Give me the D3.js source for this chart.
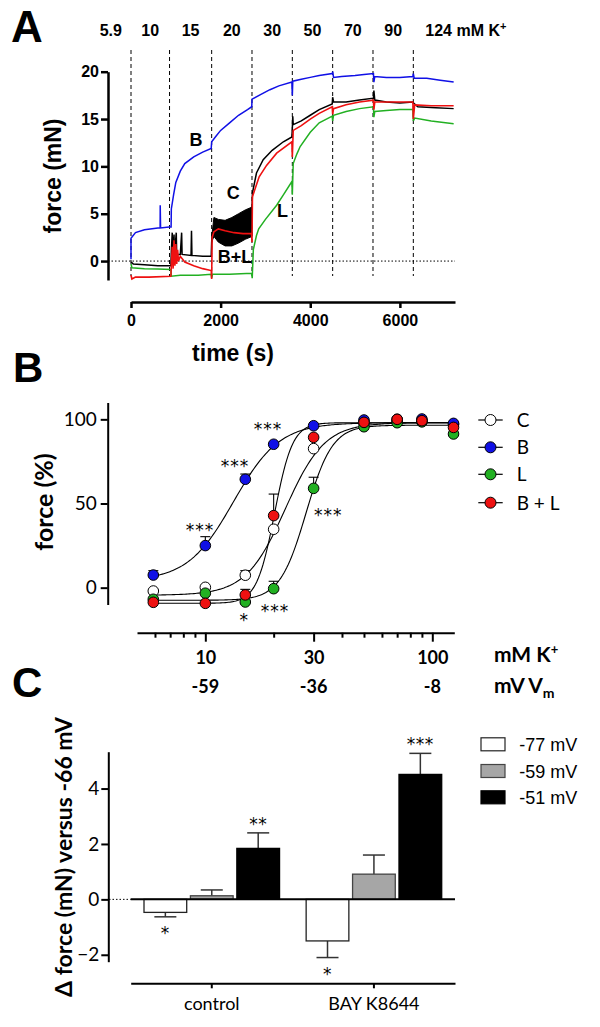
<!DOCTYPE html>
<html><head><meta charset="utf-8">
<script src="https://cdn.jsdelivr.net/npm/d3@7"></script>
<style>body{margin:0;background:#fff} svg{display:block}</style>
</head><body>
<svg id="c" width="600" height="1027"></svg>
<script>
// ================= DATA =================
// Panel A: force traces (time s, force mN)
const forceTicks = [0, 5, 10, 15, 20];
const timeTicks = [0, 2000, 4000, 6000];
const stepTimes = [0, 860, 1800, 2700, 3600, 4500, 5400, 6300];
const concLabels = ["5.9", "10", "15", "20", "30", "50", "70", "90"];
const concLabelTimes = [-450, 430, 1330, 2250, 3150, 4050, 4950, 5850];
const lastConcLabel = "124";

const traceB = [[0,0.2],[0,2.4],[100,3.0],[300,3.3],[600,3.5],[650,3.5],[652,5.9],[660,3.5],[850,3.6],[895,3.6],[900,5.5],[950,7.0],[1000,8.3],[1100,9.5],[1200,10.3],[1400,11.0],[1600,11.5],[1790,11.9],[1800,12.6],[1900,13.2],[2000,13.8],[2200,14.6],[2400,15.4],[2600,16.0],[2695,16.3],[2700,17.1],[2900,17.6],[3100,18.1],[3300,18.5],[3590,18.9],[3600,17.5],[3610,19.0],[3800,19.2],[4000,19.4],[4200,19.6],[4490,19.8],[4500,20.0],[4520,19.4],[4700,19.5],[5000,19.6],[5200,19.7],[5410,19.8],[5420,18.9],[5440,19.5],[5700,19.4],[6000,19.4],[6290,19.5],[6300,19.8],[6320,19.3],[6600,19.3],[6900,19.1],[7200,18.9]];
const traceC = [[0,-0.1],[50,-0.3],[300,-0.4],[600,-0.5],[890,-0.5],[900,1.0],[920,3.0],[930,0.5],[960,2.8],[970,0.6],[1010,3.0],[1020,0.7],[1100,0.7],[1130,3.0],[1140,0.7],[1340,0.6],[1350,3.2],[1360,0.6],[1600,0.5],[1790,0.5],[1800,2.0],[1820,3.0]];
const traceC2 = [[2700,5.5],[2710,7.2],[2800,9.3],[2950,10.7],[3150,11.7],[3400,12.6],[3590,13.1],[3600,14.0],[3610,15.3],[3620,14.4],[3800,14.8],[4000,15.4],[4200,16.0],[4490,16.6],[4500,17.3],[4520,16.8],[4800,16.8],[5100,17.0],[5410,17.2],[5420,18.0],[5440,17.0],[5700,16.8],[6000,16.7],[6290,16.8],[6300,16.7],[6400,16.3],[6800,16.2],[7200,16.1]];
const bandCTimes = [1800, 1850, 1950, 2100, 2250, 2400, 2550, 2700];
const bandCUpper = [2.5, 4.6, 4.4, 4.3, 4.6, 5.0, 5.4, 5.7];
const bandCLower = [2.0, 2.6, 2.0, 1.6, 1.6, 1.9, 2.3, 2.6];
const traceBL = [[0,-1.5],[20,-1.9],[100,-1.7],[400,-1.7],[890,-1.6],[900,-0.5],[920,1.5],[940,-0.8],[960,2.2],[980,-0.5],[1000,1.8],[1020,-0.3],[1040,1.2],[1060,0.0],[1100,0.5],[1200,-0.1],[1400,-0.5],[1600,-0.8],[1790,-1.0],[1800,-1.9],[1810,2.5],[1850,3.1],[1950,3.4],[2100,3.2],[2300,3.0],[2500,2.9],[2690,2.9],[2700,2.0],[2710,6.8],[2860,8.9],[3025,10.1],[3250,11.4],[3590,12.6],[3600,11.0],[3620,13.8],[3800,14.3],[4000,15.0],[4200,15.6],[4490,16.3],[4500,15.5],[4520,16.1],[4800,16.5],[5100,16.8],[5410,17.0],[5420,16.0],[5440,16.8],[5700,16.8],[6000,16.8],[6290,16.8],[6300,15.0],[6330,16.5],[6700,16.4],[7200,16.4]];
const traceL = [[0,-0.3],[20,-0.7],[300,-0.8],[600,-0.85],[890,-0.9],[900,-1.6],[1100,-1.5],[1500,-1.5],[1790,-1.4],[1800,-1.8],[1820,-1.4],[2200,-1.4],[2690,-1.3],[2705,-1.8],[2730,1.2],[2800,2.7],[2850,3.4],[3000,4.4],[3250,5.9],[3400,7.0],[3590,8.4],[3600,7.0],[3620,10.3],[3700,11.3],[3775,12.1],[4000,13.6],[4200,14.6],[4490,15.3],[4500,14.8],[4520,15.4],[4800,15.8],[5100,16.1],[5410,16.3],[5420,15.2],[5440,15.8],[5700,15.9],[6000,16.0],[6290,16.0],[6300,14.8],[6330,15.1],[6700,14.8],[7200,14.5]];
const traceLabels = ["B", "C", "L", "B+L"];
const traceLabelPos = [[1450, 12.1], [2280, 6.6], [3380, 4.7], [2320, -0.2]];

// Panel B: concentration-response
const kConc = [5.9, 10, 15, 20, 30, 50, 70, 90, 124];
const kMajorTicks = [10, 30, 100];
const kMinorTicks = [6, 7, 8, 9, 20, 40, 50, 60, 70, 80, 90];
const vmLabels = ["-59", "-36", "-8"];
const pctTicks = [0, 50, 100];
const seriesNames = ["C", "B", "L", "B + L"];
const seriesFill = ["#ffffff", "#1010e6", "#22b022", "#ee1111"];
const respC  = [-2.0, 0.2, 7.4, 34.7, 82.6, 98.0, 99.0, 99.0, 97.0];
const respB  = [7.5, 25.0, 64.4, 85.2, 96.2, 99.6, 100.0, 100.2, 97.6];
const respL  = [-6.9, -3.3, -8.5, -0.6, 59.0, 95.6, 98.0, 98.5, 91.3];
const respBL = [-8.7, -9.3, -4.3, 42.8, 89.3, 98.2, 100.0, 99.2, 95.2];
const semC  = [0, 0, 2.7, 0, 0, 0, 0, 0, 0];
const semB  = [2.6, 5.3, 3.1, 0, 0, 0, 0, 0, 0];
const semL  = [0, 0, 0, 4.4, 6.6, 0, 0, 0, 0];
const semBL = [0, 0, 3.3, 12.8, 0, 0, 0, 0, 0];
// fitted Hill parameters: bottom, top, EC50 (mM), slope
const fitC  = [-4.5, 98.0, 22.5, 5.0];
const fitB  = [4.0, 98.0, 13.3, 4.3];
const fitL  = [-7.5, 96.5, 27.8, 7.5];
const fitBL = [-9.3, 98.0, 20.2, 11.0];
const starsB = [[18.9, 97.0, "***"], [13.5, 74.8, "***"], [9.48, 36.8, "***"], [20.3, -10.9, "***"], [14.85, -16.8, "*"], [34.8, 45.7, "***"]];

// Panel C: bars
const groups = ["control", "BAY K8644"];
const conds = ["-77 mV", "-59 mV", "-51 mV"];
const condFill = ["#ffffff", "#a6a6a6", "#000000"];
const condStroke = ["#222222", "#444444", "#000000"];
const controlMean = [-0.47, 0.13, 1.84];
const controlSem  = [0.16, 0.21, 0.56];
const bayMean = [-1.5, 0.91, 4.51];
const baySem  = [0.6, 0.69, 0.76];
const controlStars = ["*", "", "**"];
const bayStars = ["*", "", "***"];
const deltaTicks = [-2, 0, 2, 4];

// ================= DRAW =================
const FA = "'Liberation Sans', Arial, sans-serif";
const FB = "Lato, 'Open Sans', sans-serif";
const FS = "'DejaVu Sans', sans-serif";
const svg = d3.select("#c");

function styleAxis(g, w, font, size, weight) {
  g.attr("font-family", font).attr("font-size", size).attr("font-weight", weight);
  g.select(".domain").attr("stroke", "#000").attr("stroke-width", w);
  g.selectAll(".tick line").attr("stroke", "#000").attr("stroke-width", w);
  g.selectAll(".tick text").attr("fill", "#000");
}

// ---------- Panel A ----------
const A = svg.append("g");
const xA = d3.scaleLinear().domain([0, 7230]).range([131, 455]);
const yA = d3.scaleLinear().domain([-2, 20]).range([280, 71.7]);

A.append("text").attr("x", 11).attr("y", 42).attr("font-family", FA).attr("font-weight", "bold")
  .attr("font-size", 44).text("A");

A.selectAll("text.conc").data(concLabels).join("text").attr("class", "conc")
  .attr("x", (d, i) => xA(concLabelTimes[i])).attr("y", 36).attr("text-anchor", "middle")
  .attr("font-family", FA).attr("font-weight", "bold").attr("font-size", 16).text(d => d);
const lastT = A.append("text").attr("x", xA(stepTimes[stepTimes.length - 1]) + 12).attr("y", 36)
  .attr("font-family", FA).attr("font-weight", "bold").attr("font-size", 16);
lastT.append("tspan").text(lastConcLabel + " mM K");
lastT.append("tspan").attr("dy", -6).attr("font-size", 11).text("+");

A.selectAll("line.step").data(stepTimes).join("line").attr("class", "step")
  .attr("x1", d => xA(d)).attr("x2", d => xA(d)).attr("y1", 50).attr("y2", 276)
  .attr("stroke", "#000").attr("stroke-width", 1).attr("stroke-dasharray", "4,3");

A.append("line").attr("x1", 108).attr("x2", 455).attr("y1", yA(0)).attr("y2", yA(0))
  .attr("stroke", "#000").attr("stroke-width", 1).attr("stroke-dasharray", "1.5,2");

const lineA = d3.line().x(d => xA(d[0])).y(d => yA(d[1]));
const bandData = bandCTimes.map((t, i) => [t, bandCLower[i], bandCUpper[i]]);
A.append("path").datum(bandData)
  .attr("d", d3.area().x(d => xA(d[0])).y0(d => yA(d[1])).y1(d => yA(d[2])))
  .attr("fill", "#000").attr("stroke", "#000").attr("stroke-width", 1);
A.append("path").datum(traceC).attr("d", lineA).attr("fill", "none").attr("stroke", "#000").attr("stroke-width", 1.5);
A.append("path").datum(traceC2).attr("d", lineA).attr("fill", "none").attr("stroke", "#000").attr("stroke-width", 1.5);
A.append("path").datum(traceL).attr("d", lineA).attr("fill", "none").attr("stroke", "#22b022").attr("stroke-width", 1.5);
A.append("path").datum(traceBL).attr("d", lineA).attr("fill", "none").attr("stroke", "#ee1111").attr("stroke-width", 1.6);
A.append("path").datum(traceB).attr("d", lineA).attr("fill", "none").attr("stroke", "#1010e6").attr("stroke-width", 1.5);

A.selectAll("text.tl").data(traceLabels).join("text").attr("class", "tl")
  .attr("x", (d, i) => xA(traceLabelPos[i][0])).attr("y", (d, i) => yA(traceLabelPos[i][1]))
  .attr("text-anchor", "middle").attr("font-family", FA).attr("font-weight", "bold")
  .attr("font-size", 18).text(d => d);

const yAxA = A.append("g").attr("transform", "translate(108,0)")
  .call(d3.axisLeft(yA).tickValues(forceTicks).tickSize(7).tickSizeOuter(0).tickPadding(2));
styleAxis(yAxA, 2.5, FA, 16, "bold");
const xAxA = A.append("g").attr("transform", "translate(0,302)")
  .call(d3.axisBottom(xA).tickValues(timeTicks).tickSize(6).tickSizeOuter(0).tickPadding(7).tickFormat(d3.format("d")));
styleAxis(xAxA, 2.5, FA, 16, "bold");

A.append("text").attr("transform", "translate(61,176) rotate(-90)").attr("text-anchor", "middle")
  .attr("font-family", FA).attr("font-weight", "bold").attr("font-size", 23).text("force (mN)");
A.append("text").attr("x", 233).attr("y", 361).attr("text-anchor", "middle")
  .attr("font-family", FA).attr("font-weight", "bold").attr("font-size", 23).text("time (s)");

// ---------- Panel B ----------
const B = svg.append("g");
const xB = d3.scaleLog().domain([5, 125]).range([137, 454.3]);
const yB = d3.scaleLinear().domain([-10, 110]).range([604.5, 402.5]);

B.append("text").attr("x", 13).attr("y", 382).attr("font-family", FA).attr("font-weight", "bold")
  .attr("font-size", 42).text("B");

const yAxB = B.append("g").attr("transform", "translate(107.7,0)")
  .call(d3.axisLeft(yB).tickValues(pctTicks).tickSize(7).tickSizeOuter(0).tickPadding(4));
styleAxis(yAxB, 2, FB, 19, "normal");
const xAxBminor = B.append("g").attr("transform", "translate(0,632.7)")
  .call(d3.axisBottom(xB).tickValues(kMinorTicks).tickSize(5).tickSizeOuter(0).tickFormat(""));
styleAxis(xAxBminor, 2, FB, 17, "bold");
const xAxB = B.append("g").attr("transform", "translate(0,632.7)")
  .call(d3.axisBottom(xB).tickValues(kMajorTicks).tickSize(9).tickSizeOuter(0).tickPadding(10).tickFormat(d3.format("d")));
styleAxis(xAxB, 2, FB, 18, "bold");
xAxB.select(".domain").remove();

B.selectAll("text.vm").data(vmLabels).join("text").attr("class", "vm")
  .attr("x", (d, i) => xB(kMajorTicks[i])).attr("y", 693).attr("text-anchor", "middle")
  .attr("font-family", FB).attr("font-weight", "bold").attr("font-size", 18).text(d => d);
const mk = B.append("text").attr("x", 494).attr("y", 662).attr("font-family", FB).attr("font-weight", "bold").attr("font-size", 21);
mk.append("tspan").text("mM K");
mk.append("tspan").attr("dy", -8).attr("font-size", 13).text("+");
const mv = B.append("text").attr("x", 494).attr("y", 693).attr("font-family", FB).attr("font-weight", "bold").attr("font-size", 21);
mv.append("tspan").text("mV V");
mv.append("tspan").attr("dy", 5).attr("font-size", 14).text("m");

B.append("text").attr("transform", "translate(53,502) rotate(-90)").attr("text-anchor", "middle")
  .attr("font-family", FB).attr("font-weight", "bold").attr("font-size", 25).text("force (%)");

const respAll = [respC, respB, respL, respBL];
const semAll = [semC, semB, semL, semBL];
const fitAll = [fitC, fitB, fitL, fitBL];

const curveX = d3.range(0, 201).map(i => Math.exp(Math.log(kConc[0]) + (Math.log(kConc[kConc.length - 1]) - Math.log(kConc[0])) * i / 200));
const hill = (p, x) => p[0] + (p[1] - p[0]) / (1 + Math.pow(p[2] / x, p[3]));
fitAll.forEach(p => {
  B.append("path").datum(curveX).attr("fill", "none").attr("stroke", "#000").attr("stroke-width", 1.1)
    .attr("d", d3.line().x(x => xB(x)).y(x => yB(hill(p, x))));
});
respAll.forEach((r, si) => {
  r.forEach((v, i) => {
    const e = semAll[si][i];
    if (e > 0) {
      B.append("line").attr("x1", xB(kConc[i])).attr("x2", xB(kConc[i])).attr("y1", yB(v)).attr("y2", yB(v + e))
        .attr("stroke", "#000").attr("stroke-width", 1.1);
      B.append("line").attr("x1", xB(kConc[i]) - 5).attr("x2", xB(kConc[i]) + 5).attr("y1", yB(v + e)).attr("y2", yB(v + e))
        .attr("stroke", "#000").attr("stroke-width", 1.1);
    }
  });
});
respAll.forEach((r, si) => {
  B.selectAll("circle.s" + si).data(r).join("circle").attr("class", "s" + si)
    .attr("cx", (d, i) => xB(kConc[i])).attr("cy", d => yB(d)).attr("r", 5.3)
    .attr("fill", seriesFill[si]).attr("stroke", "#000").attr("stroke-width", 1);
});
B.selectAll("text.star").data(starsB).join("text").attr("class", "star")
  .attr("x", d => xB(d[0])).attr("y", d => yB(d[1]) + 10.5).attr("text-anchor", "middle")
  .attr("font-family", FS).attr("font-size", 17).attr("letter-spacing", 1).attr("fill", "#000").text(d => d[2]);

const legBY = [420, 447.3, 474.3, 502.7];
seriesNames.forEach((n, i) => {
  B.append("line").attr("x1", 478.3).attr("x2", 502.7).attr("y1", legBY[i]).attr("y2", legBY[i]).attr("stroke", "#000").attr("stroke-width", 1.2);
  B.append("circle").attr("cx", 490.5).attr("cy", legBY[i]).attr("r", 5.5).attr("fill", seriesFill[i]).attr("stroke", "#000").attr("stroke-width", 1);
  B.append("text").attr("x", 516.7).attr("y", legBY[i] + 7).attr("font-family", FB).attr("font-size", 19).text(n);
});

// ---------- Panel C ----------
const C = svg.append("g");
const yC = d3.scaleLinear().domain([-2.25, 5.33]).range([961.7, 751.7]);
const x0 = d3.scaleBand().domain(groups).range([130.7, 455]).paddingInner(0).paddingOuter(0);
const x1 = d3.scaleBand().domain(conds).range([13.3, x0.bandwidth() - 13.3]).paddingInner(0.08);

C.append("text").attr("x", 12).attr("y", 697).attr("font-family", FA).attr("font-weight", "bold")
  .attr("font-size", 42).text("C");

const barData = [];
groups.forEach((g, gi) => {
  const m = gi === 0 ? controlMean : bayMean;
  const s = gi === 0 ? controlSem : baySem;
  const st = gi === 0 ? controlStars : bayStars;
  conds.forEach((c, ci) => barData.push({ g, c, ci, v: m[ci], e: s[ci], star: st[ci] }));
});

barData.forEach(d => {
  const cx = x0(d.g) + x1(d.c) + x1.bandwidth() / 2;
  const tip = d.v >= 0 ? d.v + d.e : d.v - d.e;
  C.append("line").attr("x1", cx).attr("x2", cx).attr("y1", yC(d.v)).attr("y2", yC(tip)).attr("stroke", "#333").attr("stroke-width", 1.5);
  C.append("line").attr("x1", cx - 11).attr("x2", cx + 11).attr("y1", yC(tip)).attr("y2", yC(tip)).attr("stroke", "#333").attr("stroke-width", 1.5);
  if (d.star) {
    C.append("text").attr("x", cx).attr("y", d.v >= 0 ? yC(tip) - 3 : yC(tip) + 22)
      .attr("text-anchor", "middle").attr("font-family", FS).attr("font-size", 17).attr("letter-spacing", 0.5).attr("fill", "#000").text(d.star);
  }
});
C.selectAll("rect.bar").data(barData).join("rect").attr("class", "bar")
  .attr("x", d => x0(d.g) + x1(d.c)).attr("width", x1.bandwidth())
  .attr("y", d => yC(Math.max(0, d.v))).attr("height", d => Math.abs(yC(d.v) - yC(0)))
  .attr("fill", d => condFill[d.ci]).attr("stroke", d => condStroke[d.ci]).attr("stroke-width", 1.3);

C.append("line").attr("x1", 109).attr("x2", 130.7).attr("y1", yC(0)).attr("y2", yC(0))
  .attr("stroke", "#000").attr("stroke-width", 1).attr("stroke-dasharray", "1.5,2");
C.append("line").attr("x1", 130.7).attr("x2", 455).attr("y1", yC(0)).attr("y2", yC(0))
  .attr("stroke", "#000").attr("stroke-width", 2);

const yAxC = C.append("g").attr("transform", "translate(108.3,0)")
  .call(d3.axisLeft(yC).tickValues(deltaTicks).tickSize(7).tickSizeOuter(0).tickPadding(2));
styleAxis(yAxC, 2, FB, 19, "normal");
const xAxC = C.append("g").attr("transform", "translate(0,983.3)")
  .call(d3.axisBottom(x0).tickSize(5).tickSizeOuter(0).tickPadding(9));
styleAxis(xAxC, 2, FB, 18, "normal");

C.append("text").attr("transform", "translate(72,857) rotate(-90)").attr("text-anchor", "middle")
  .attr("font-family", FB).attr("font-weight", "bold").attr("font-size", 23).text("\u0394 force (mN) versus -66 mV");

const legCY = [744.3, 771, 797.3];
conds.forEach((c, i) => {
  C.append("rect").attr("x", 481).attr("y", legCY[i] - 6.5).attr("width", 24).attr("height", 13)
    .attr("fill", condFill[i]).attr("stroke", condStroke[i]).attr("stroke-width", 1.2);
  C.append("text").attr("x", 519.3).attr("y", legCY[i] + 6.5).attr("font-family", FA).attr("font-size", 18).text(c);
});
</script>
</body></html>
